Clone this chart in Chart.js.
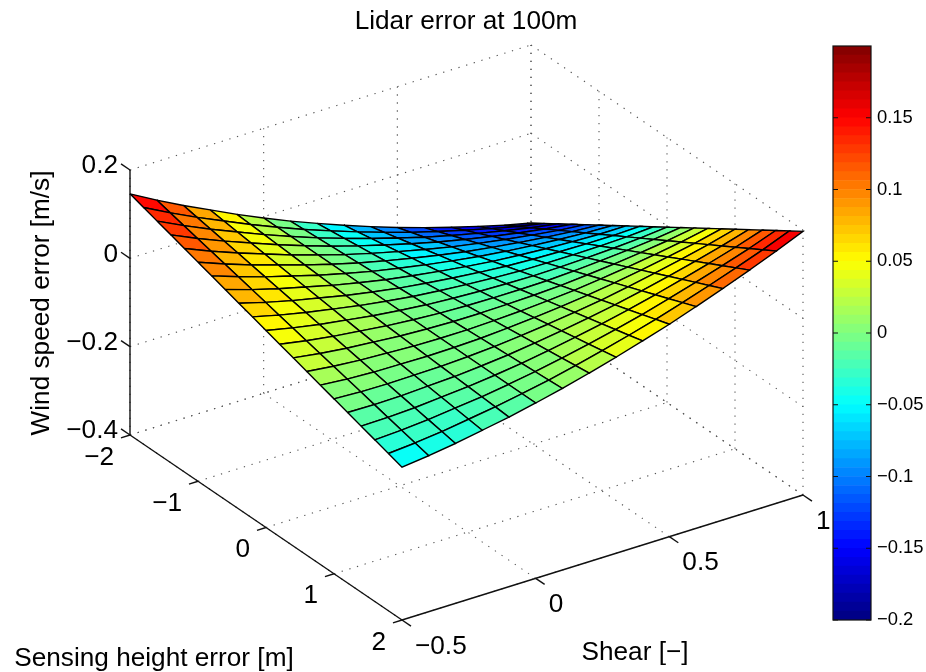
<!DOCTYPE html>
<html><head><meta charset="utf-8">
<script src="https://cdn.jsdelivr.net/npm/chart.js@4"></script>
<style>
html,body{margin:0;padding:0;background:#fff;width:926px;height:672px;overflow:hidden}
canvas{position:absolute;display:block;filter:blur(0.4px)}
</style></head><body>
<canvas id="surface" width="926" height="672" style="left:0;top:0"></canvas>
<canvas id="bar" width="103" height="600" style="left:823px;top:36px"></canvas>
<script>
const sensingHeight=[-2,-1.8,-1.6,-1.4,-1.2,-1,-0.8,-0.6,-0.4,-0.2,0,0.2,0.4,0.6,0.8,1,1.2,1.4,1.6,1.8,2];
const shear=[-0.5,-0.4,-0.3,-0.2,-0.1,0,0.1,0.2,0.3,0.4,0.5,0.6,0.7,0.8,0.9,1];
const windSpeedError=[
[.146,.113,.082,.053,.024,-.003,-.029,-.053,-.076,-.098,-.119,-.138,-.156,-.173,-.189,-.203],
[.136,.105,.076,.049,.022,-.003,-.027,-.049,-.070,-.090,-.109,-.126,-.142,-.157,-.171,-.183],
[.126,.097,.070,.045,.020,-.003,-.025,-.045,-.064,-.082,-.099,-.114,-.128,-.141,-.153,-.163],
[.116,.089,.064,.041,.018,-.003,-.023,-.041,-.058,-.074,-.089,-.102,-.114,-.125,-.135,-.143],
[.106,.081,.058,.037,.016,-.003,-.021,-.037,-.052,-.066,-.079,-.090,-.100,-.109,-.117,-.123],
[.096,.073,.052,.033,.014,-.003,-.019,-.033,-.046,-.058,-.069,-.078,-.086,-.093,-.099,-.103],
[.086,.065,.046,.029,.012,-.003,-.017,-.029,-.040,-.050,-.059,-.066,-.072,-.077,-.081,-.083],
[.076,.057,.040,.025,.010,-.003,-.015,-.025,-.034,-.042,-.049,-.054,-.058,-.061,-.063,-.063],
[.066,.049,.034,.021,.008,-.003,-.013,-.021,-.028,-.034,-.039,-.042,-.044,-.045,-.045,-.043],
[.056,.041,.028,.017,.006,-.003,-.011,-.017,-.022,-.026,-.029,-.030,-.030,-.029,-.027,-.023],
[.046,.033,.022,.013,.004,-.003,-.009,-.013,-.016,-.018,-.019,-.018,-.016,-.013,-.009,-.003],
[.036,.025,.016,.009,.002,-.003,-.007,-.009,-.010,-.010,-.009,-.006,-.002,.003,.009,.017],
[.026,.017,.010,.005,.000,-.003,-.005,-.005,-.004,-.002,.001,.006,.012,.019,.027,.037],
[.016,.009,.004,.001,-.002,-.003,-.003,-.001,.002,.006,.011,.018,.026,.035,.045,.057],
[.006,.001,-.002,-.003,-.004,-.003,-.001,.003,.008,.014,.021,.030,.040,.051,.063,.077],
[-.004,-.007,-.008,-.007,-.006,-.003,.001,.007,.014,.022,.031,.042,.054,.067,.081,.097],
[-.014,-.015,-.014,-.011,-.008,-.003,.003,.011,.020,.030,.041,.054,.068,.083,.099,.117],
[-.024,-.023,-.020,-.015,-.010,-.003,.005,.015,.026,.038,.051,.066,.082,.099,.117,.137],
[-.034,-.031,-.026,-.019,-.012,-.003,.007,.019,.032,.046,.061,.078,.096,.115,.135,.157],
[-.044,-.039,-.032,-.023,-.014,-.003,.009,.023,.038,.054,.071,.090,.110,.131,.153,.177],
[-.054,-.047,-.038,-.027,-.016,-.003,.011,.027,.044,.062,.081,.102,.124,.147,.171,.197]
];
const heightTicks=[-2,-1,0,1,2];
const shearTicks=[-0.5,0,0.5,1];
const errorTicks=[-0.4,-0.2,0,0.2];
const colorbarTicks=[-0.2,-0.15,-0.1,-0.05,0,0.05,0.1,0.15];
const colorLimits=[-0.2,0.2];
const titleText='Lidar error at 100m';
const heightLabel='Sensing height error [m]';
const shearLabel='Shear [\u2212]';
const errorLabel='Wind speed error [m/s]';

// axonometric view of the 3-D box
const H0=-2,H1=2,S0=-0.5,S1=1,Z0=-0.4,Z1=0.2;
function project(h,s,z){
  const u=(h-H0)/(H1-H0),v=(s-S0)/(S1-S0),w=(z-Z0)/(Z1-Z0);
  return {x:130+272*u+401*v,y:435+185*u-125*v-265*w};
}
function clamp(a){return Math.max(0,Math.min(1,a));}
function jet(f){
  const r=clamp(Math.min(4*f-1.5,-4*f+4.5)),g=clamp(Math.min(4*f-0.5,-4*f+3.5)),b=clamp(Math.min(4*f+0.5,-4*f+2.5));
  return `rgb(${Math.round(r*255)},${Math.round(g*255)},${Math.round(b*255)})`;
}
const LEVELS=64;
function levelColor(k){return jet((k+0.5)/LEVELS);}
function valueColor(z){
  const k=Math.max(0,Math.min(LEVELS-1,Math.floor((z-colorLimits[0])/(colorLimits[1]-colorLimits[0])*LEVELS)));
  return levelColor(k);
}
function fmt(v){return String(+v.toFixed(2)).replace('-','\u2212');}

const datasets=[];
function lineSet(points,opts){
  datasets.push(Object.assign({type:'scatter',data:points,showLine:true,pointRadius:0,pointHoverRadius:0,fill:false,tension:0,borderWidth:1,borderColor:'#000'},opts));
}
// surface, front patches first because the first dataset paints on top
for(let i=windSpeedError.length-2;i>=0;i--){
  for(let j=0;j<shear.length-1;j++){
    lineSet([
      project(sensingHeight[i],shear[j],windSpeedError[i][j]),
      project(sensingHeight[i],shear[j+1],windSpeedError[i][j+1]),
      project(sensingHeight[i+1],shear[j+1],windSpeedError[i+1][j+1]),
      project(sensingHeight[i+1],shear[j],windSpeedError[i+1][j]),
      project(sensingHeight[i],shear[j],windSpeedError[i][j])
    ],{fill:'shape',backgroundColor:valueColor(windSpeedError[i][j]),borderColor:'#000',borderWidth:1.4});
  }
}
// solid axes and tick marks
const axisOpts={borderColor:'#111',borderWidth:1.4};
lineSet([project(H0,S0,Z0),project(H0,S0,Z1)],axisOpts);
lineSet([project(H0,S0,Z0),project(H1,S0,Z0)],axisOpts);
lineSet([project(H1,S0,Z0),project(H1,S1,Z0)],axisOpts);
const tickU=0.033*(H1-H0),tickV=0.0225*(S1-S0);
errorTicks.forEach(z=>lineSet([project(H0,S0,z),project(H0-tickU,S0,z)],axisOpts));
heightTicks.forEach(h=>lineSet([project(h,S0,Z0),project(h,S0-tickV,Z0)],axisOpts));
shearTicks.forEach(s=>lineSet([project(H1,s,Z0),project(H1+tickU,s,Z0)],axisOpts));
// dotted grid on floor and back walls
const gridOpts={borderColor:'#555',borderWidth:1.1,borderDash:[1.3,6.7]};
heightTicks.forEach(h=>{
  lineSet([project(h,S0,Z0),project(h,S1,Z0)],gridOpts);
  lineSet([project(h,S1,Z0),project(h,S1,Z1)],gridOpts);
});
shearTicks.forEach(s=>{
  lineSet([project(H1,s,Z0),project(H0,s,Z0)],gridOpts);
  lineSet([project(H0,s,Z0),project(H0,s,Z1)],gridOpts);
});
errorTicks.forEach(z=>{
  lineSet([project(H0,S0,z),project(H0,S1,z)],gridOpts);
  lineSet([project(H0,S1,z),project(H1,S1,z)],gridOpts);
});

const FONT='"Liberation Sans", Arial, sans-serif';
const textPlugin={
  id:'boxText',
  afterDraw(chart){
    const c=chart.ctx;
    c.save();
    c.fillStyle='#000';
    c.font='26.2px '+FONT;
    c.textBaseline='middle';
    c.textAlign='right';
    errorTicks.forEach(z=>{const p=project(H0,S0,z);c.fillText(fmt(z),118,p.y-4);});
    heightTicks.forEach(h=>{const p=project(h,S0,Z0);c.fillText(fmt(h),p.x-16,p.y+22.5);});
    c.textAlign='left';
    shearTicks.forEach(s=>{const p=project(H1,s,Z0);c.fillText(fmt(s),p.x+13,p.y+26.5);});
    c.textAlign='center';
    c.fillText(titleText,466,22);
    c.fillText(heightLabel,154,659);
    c.fillText(shearLabel,635,653);
    c.save();
    c.translate(42,303);
    c.rotate(-Math.PI/2);
    c.fillText(errorLabel,0,0);
    c.restore();
    c.restore();
  }
};
new Chart(document.getElementById('surface'),{
  type:'scatter',
  data:{datasets},
  options:{
    responsive:false,animation:false,events:[],
    layout:{padding:0},
    plugins:{legend:{display:false},tooltip:{enabled:false},title:{display:false}},
    scales:{
      x:{type:'linear',min:0,max:926,display:false},
      y:{type:'linear',min:0,max:672,reverse:true,display:false}
    }
  },
  plugins:[textPlugin]
});

// colour bar
const step=(colorLimits[1]-colorLimits[0])/LEVELS;
const barSets=[];
for(let k=0;k<LEVELS;k++){
  const lo=colorLimits[0]+k*step;
  barSets.push({data:[[lo,lo+step]],backgroundColor:levelColor(k),borderWidth:0,barPercentage:1,categoryPercentage:1,grouped:false});
}
const framePlugin={
  id:'barFrame',
  afterDatasetsDraw(chart){
    const c=chart.ctx,a=chart.chartArea,y=chart.scales.y;
    c.save();
    c.strokeStyle='#111';c.lineWidth=1.2;
    c.strokeRect(a.left,a.top,a.right-a.left,a.bottom-a.top);
    colorbarTicks.forEach(v=>{
      const p=y.getPixelForValue(v);
      c.beginPath();c.moveTo(a.left,p);c.lineTo(a.left+5,p);c.moveTo(a.right,p);c.lineTo(a.right-5,p);c.stroke();
    });
    c.restore();
  }
};
new Chart(document.getElementById('bar'),{
  type:'bar',
  data:{labels:[''],datasets:barSets},
  options:{
    responsive:false,animation:false,events:[],
    layout:{padding:{left:10,top:10,bottom:16,right:0}},
    plugins:{legend:{display:false},tooltip:{enabled:false},title:{display:false}},
    scales:{
      x:{display:false},
      y:{type:'linear',position:'right',min:colorLimits[0],max:colorLimits[1],
         grid:{display:false,drawTicks:false},border:{display:false},
         afterBuildTicks(s){s.ticks=colorbarTicks.map(v=>({value:v}));},
         afterFit(s){s.width=55;s.paddingTop=0;s.paddingBottom=0;},
         ticks:{autoSkip:false,padding:6,color:'#000',font:{family:FONT,size:18.4},callback:v=>fmt(v)}}
    }
  },
  plugins:[framePlugin]
});
</script>
</body></html>
